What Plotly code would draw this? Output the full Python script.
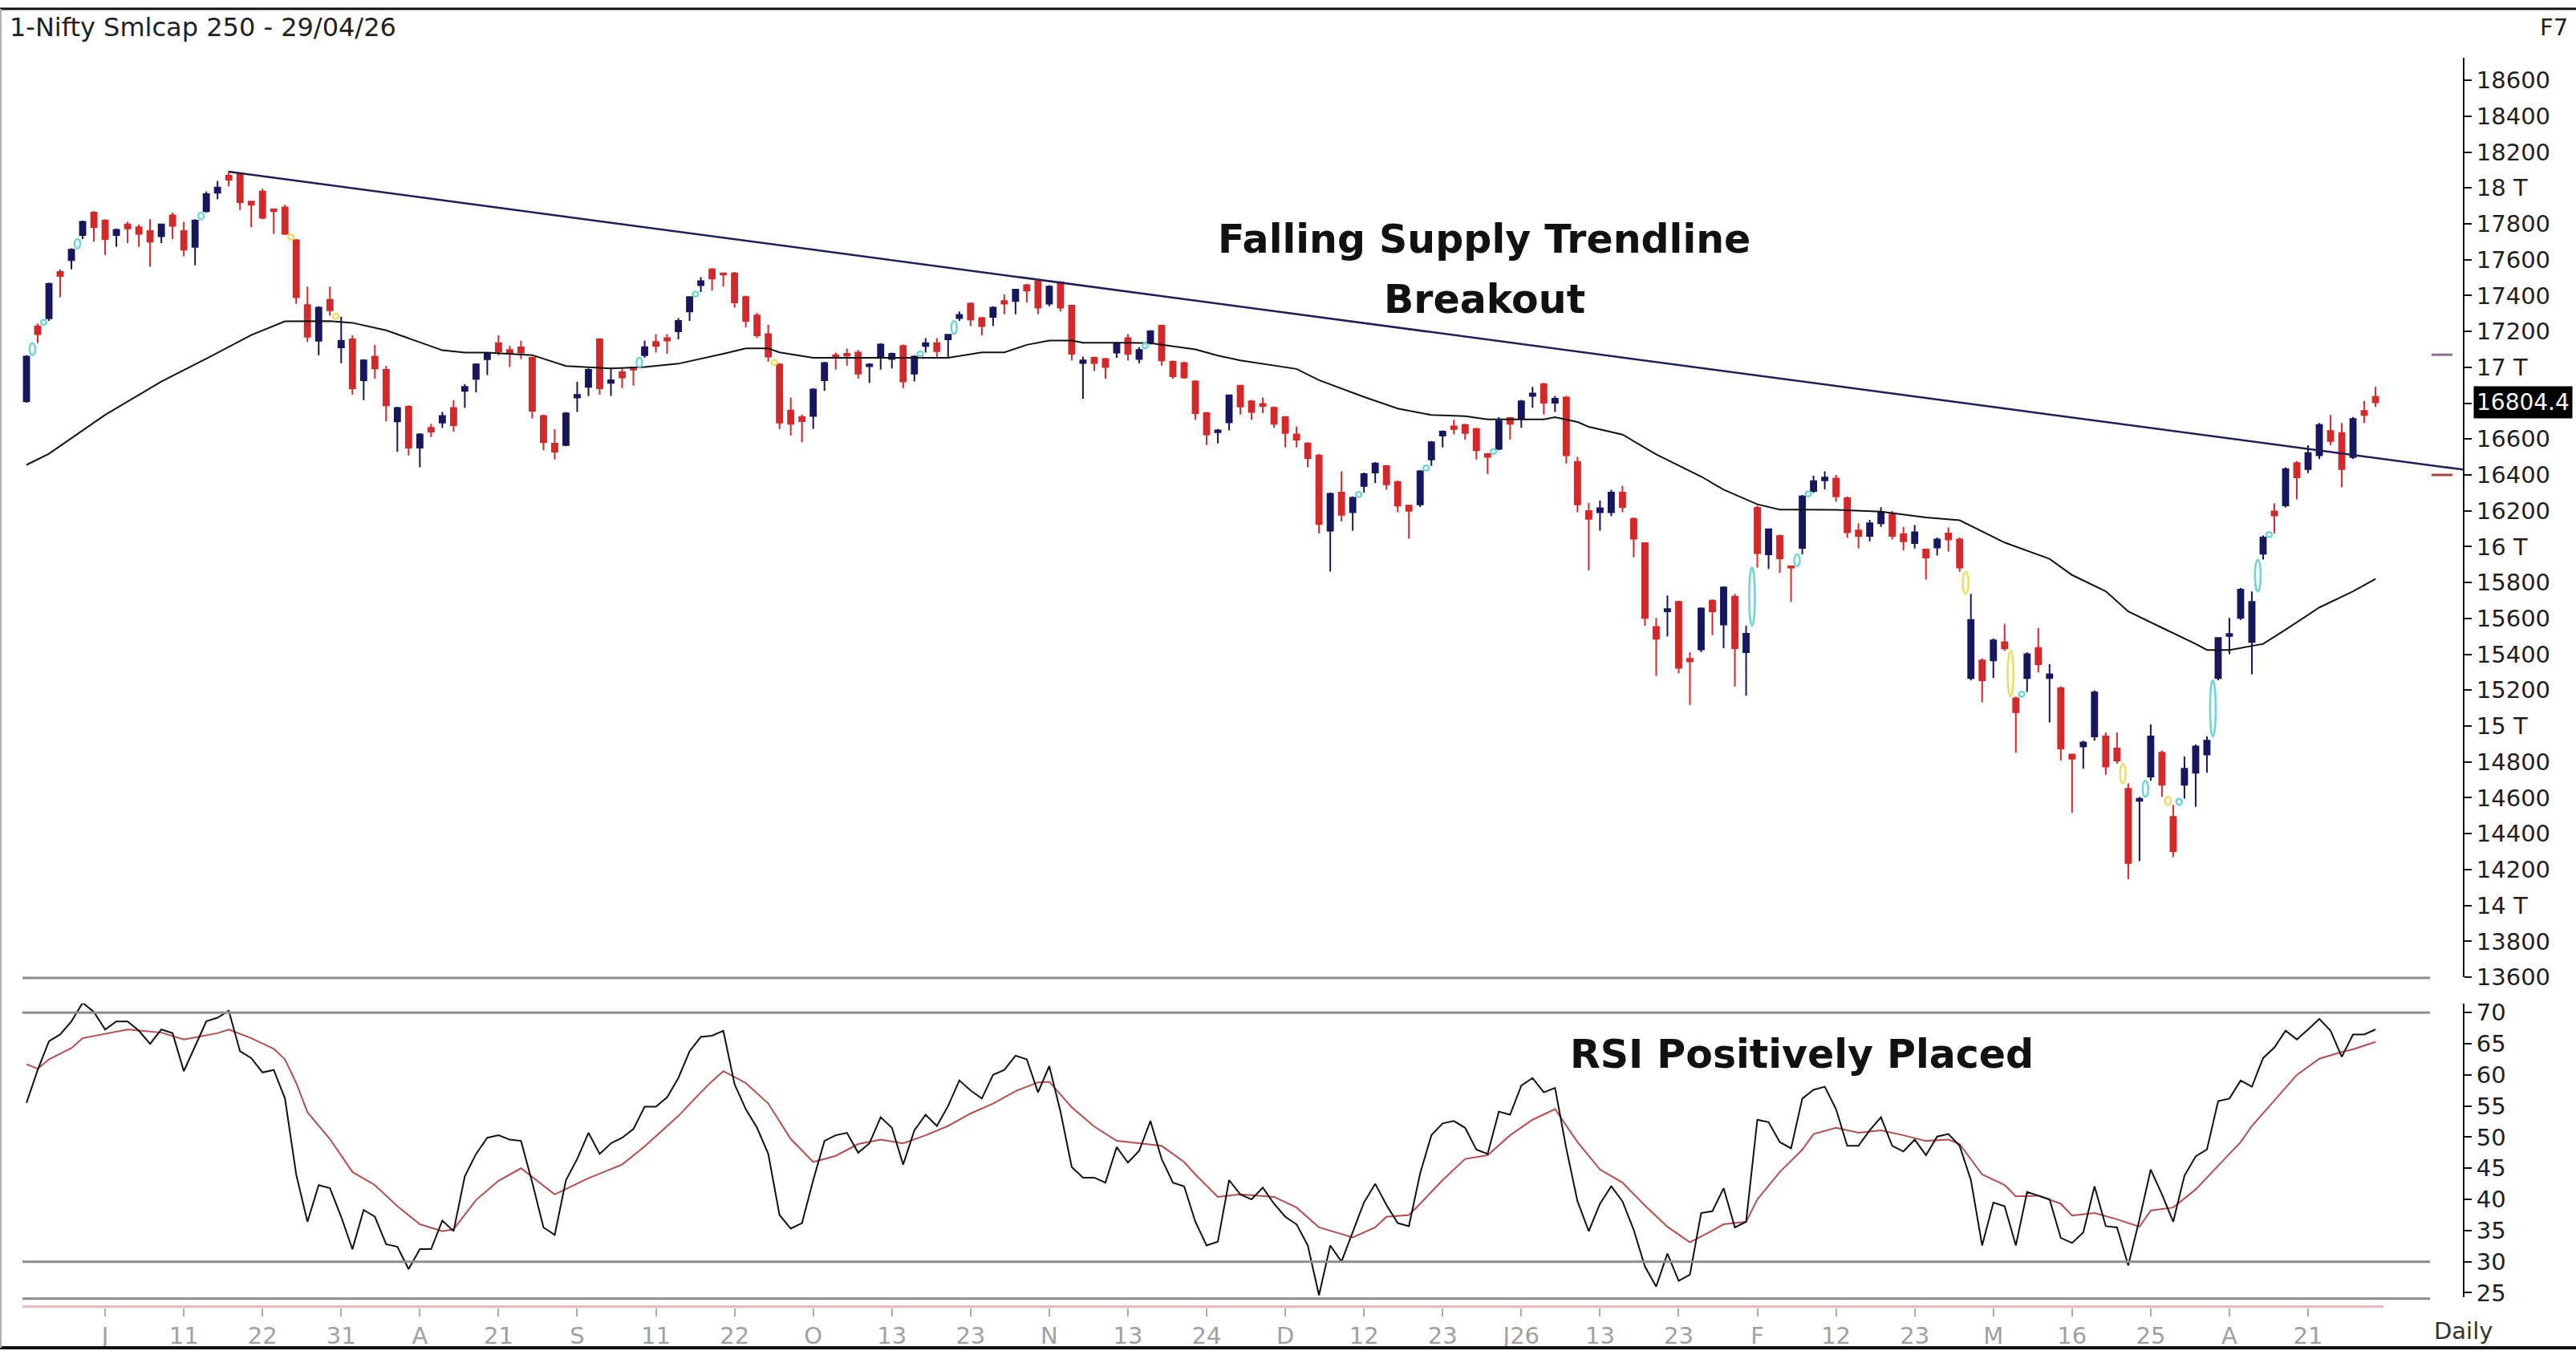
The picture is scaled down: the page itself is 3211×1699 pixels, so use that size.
import plotly.graph_objects as go

W, H = 3211, 1699

# ---------------- data ----------------
bar_open = [
    16810, 17229, 17273, 17531, 17597, 17737, 17862, 17818, 17737, 17796,
    17781, 17759, 17730, 17847, 17759, 17671, 17870, 17973, 18068, 18076,
    17924, 17980, 17880, 17892, 17708, 17347, 17148, 17376, 17111, 17156,
    16928, 17060, 16986, 16699, 16780, 16552, 16663, 16692, 16773, 16869,
    16935, 17045, 17134, 17097, 17111, 17053, 16729, 16574, 16567, 16832,
    16891, 17156, 16913, 16972, 16997, 17068, 17141, 17163, 17200, 17311,
    17458, 17546, 17524, 17524, 17392, 17289, 17185, 17016, 16759, 16722,
    16729, 16928, 17068, 17075, 17082, 17006, 17053, 17046, 17119, 16965,
    17119, 17134, 17156, 17274, 17355, 17274, 17281, 17369, 17369, 17458,
    17480, 17355, 17473, 17344, 17024, 17053, 17046, 17082, 17163, 17046,
    17141, 17232, 17031, 17024, 16921, 16744, 16638, 16693, 16898, 16810,
    16796, 16774, 16722, 16626, 16575, 16508, 16089, 16302, 16192, 16339,
    16413, 16449, 16361, 16229, 16236, 16486, 16619, 16670, 16678, 16656,
    16516, 16545, 16718, 16715, 16840, 16906, 16803, 16832, 16472, 16199,
    16192, 16192, 16302, 16155, 16020, 15552, 15640, 15692, 15375, 15427,
    15699, 15566, 15721, 15412, 16217, 15957, 16060, 15890, 15993, 16310,
    16370, 16380, 16270, 16090, 16060, 16130, 16180, 16070, 16020, 15984,
    15995, 16073, 16040, 15267, 15366, 15366, 15467, 15155, 15267, 15435,
    15267, 15211, 14841, 14886, 14942, 14942, 14875, 14650, 14583, 14718,
    14852, 14494, 14673, 14740, 14841, 15267, 15502, 15603, 15469, 15961,
    16197, 16230, 16466, 16432, 16510, 16645, 16634, 16499, 16757, 16835,
]
bar_high = [
    17067, 17244, 17472, 17546, 17663, 17818, 17870, 17825, 17774, 17811,
    17796, 17825, 17800, 17862, 17811, 17825, 17980, 18039, 18095, 18080,
    17928, 17995, 17884, 17906, 17715, 17450, 17340, 17450, 17281, 17178,
    17045, 17126, 17008, 16780, 16788, 16633, 16685, 16751, 16817, 16905,
    17023, 17082, 17178, 17119, 17148, 17060, 16736, 16655, 16751, 16920,
    16994, 17163, 16994, 16994, 17001, 17149, 17185, 17185, 17274, 17395,
    17502, 17553, 17528, 17531, 17399, 17303, 17237, 17023, 16832, 16736,
    16884, 17031, 17082, 17104, 17097, 17023, 17134, 17082, 17127, 17068,
    17163, 17163, 17185, 17311, 17362, 17281, 17340, 17406, 17436, 17465,
    17487, 17458, 17480, 17347, 17060, 17060, 17053, 17141, 17185, 17112,
    17207, 17237, 17038, 17031, 16928, 16751, 16656, 16847, 16898, 16818,
    16832, 16781, 16729, 16670, 16582, 16516, 16302, 16420, 16280, 16413,
    16472, 16449, 16369, 16229, 16427, 16589, 16648, 16707, 16685, 16663,
    16523, 16722, 16722, 16818, 16891, 16913, 16840, 16840, 16501, 16244,
    16258, 16317, 16339, 16163, 16023, 15603, 15728, 15699, 15412, 15662,
    15706, 15780, 15736, 15559, 16229, 16097, 16067, 15890, 16288, 16395,
    16420, 16400, 16280, 16130, 16150, 16220, 16200, 16110, 16120, 15990,
    16051, 16107, 16051, 15737, 15377, 15489, 15569, 15165, 15412, 15547,
    15345, 15222, 14841, 14919, 15199, 14964, 14964, 14680, 14605, 15009,
    14864, 14561, 14830, 14897, 14942, 15491, 15603, 15771, 15750, 16062,
    16241, 16443, 16477, 16566, 16690, 16734, 16690, 16723, 16813, 16891,
]
bar_low = [
    16803, 17134, 17259, 17391, 17546, 17715, 17700, 17627, 17671, 17693,
    17671, 17560, 17693, 17715, 17619, 17568, 17862, 17936, 18009, 17877,
    17781, 17825, 17744, 17737, 17354, 17141, 17067, 17288, 17023, 16847,
    16817, 16935, 16699, 16530, 16508, 16442, 16611, 16663, 16641, 16773,
    16861, 16957, 17067, 17001, 17045, 16714, 16537, 16486, 16560, 16751,
    16839, 16847, 16840, 16884, 16898, 17053, 17082, 17075, 17156, 17259,
    17420, 17428, 17450, 17333, 17222, 17163, 17031, 16656, 16619, 16582,
    16656, 16869, 16987, 17009, 16935, 16913, 16987, 16994, 16884, 16921,
    17082, 17053, 17053, 17259, 17230, 17178, 17230, 17296, 17296, 17362,
    17296, 17340, 17311, 17038, 16825, 16979, 16935, 17053, 17038, 17023,
    17127, 17009, 16935, 16935, 16707, 16567, 16575, 16648, 16737, 16707,
    16744, 16663, 16553, 16553, 16442, 16074, 15861, 16141, 16089, 16302,
    16354, 16317, 16192, 16045, 16221, 16450, 16553, 16626, 16597, 16486,
    16405, 16538, 16597, 16663, 16774, 16737, 16751, 16464, 16192, 15868,
    16089, 16170, 16192, 15941, 15559, 15280, 15500, 15294, 15118, 15412,
    15507, 15434, 15221, 15169, 15883, 15876, 15854, 15692, 15957, 16300,
    16320, 16250, 16050, 15990, 16030, 16110, 16040, 15980, 15990, 15816,
    15950, 15973, 15860, 15255, 15132, 15267, 15420, 14852, 15190, 15300,
    15020, 14808, 14517, 14762, 14919, 14729, 14790, 14146, 14247, 14695,
    14606, 14269, 14595, 14550, 14740, 15255, 15401, 15592, 15289, 15928,
    16073, 16219, 16264, 16410, 16488, 16566, 16331, 16488, 16690, 16779,
]
bar_close = [
    17060, 17185, 17465, 17509, 17656, 17811, 17781, 17715, 17766, 17774,
    17744, 17700, 17796, 17789, 17656, 17818, 17965, 18002, 18046, 17921,
    17906, 17833, 17870, 17744, 17391, 17170, 17332, 17318, 17148, 16883,
    17038, 16994, 16788, 16773, 16552, 16626, 16641, 16729, 16677, 16891,
    17016, 17075, 17089, 17075, 17082, 16758, 16582, 16530, 16743, 16846,
    16986, 16883, 16928, 16943, 16987, 17112, 17119, 17149, 17259, 17392,
    17480, 17495, 17517, 17362, 17259, 17178, 17060, 16692, 16685, 16700,
    16876, 17024, 17053, 17065, 16965, 17016, 17127, 17075, 16921, 17060,
    17134, 17090, 17182, 17292, 17266, 17230, 17333, 17355, 17433, 17428,
    17333, 17450, 17333, 17075, 17038, 17024, 17001, 17134, 17075, 17097,
    17200, 17038, 16950, 16943, 16744, 16626, 16648, 16844, 16781, 16751,
    16785, 16685, 16634, 16597, 16494, 16126, 16295, 16177, 16273, 16405,
    16464, 16347, 16229, 16200, 16420, 16582, 16641, 16656, 16634, 16538,
    16501, 16700, 16685, 16810, 16854, 16803, 16825, 16509, 16236, 16155,
    16214, 16302, 16221, 16045, 15603, 15486, 15652, 15324, 15360, 15655,
    15640, 15773, 15434, 15515, 15964, 16097, 15935, 15883, 16280, 16365,
    16385, 16280, 16080, 16060, 16130, 16190, 16060, 16030, 16080, 15939,
    16040, 16040, 15883, 15592, 15255, 15478, 15433, 15077, 15401, 15345,
    15289, 14875, 14818, 14908, 15188, 14774, 14808, 14236, 14594, 14942,
    14673, 14303, 14762, 14886, 14919, 15491, 15513, 15760, 15692, 16051,
    16174, 16432, 16387, 16522, 16678, 16589, 16432, 16712, 16734, 16804.4,
]
bars = list(range(len(bar_close)))

# gaps marked by hollow ovals (cyan = gap up, yellow = gap down), bar that opens the gap
gap_up_bars = [1, 2, 5, 16, 55, 60, 80, 83, 100, 119, 125, 131, 154, 158, 159,
               178, 189, 192, 195, 199, 200]
gap_down_bars = [24, 28, 67, 173, 177, 187, 191]

# moving average (sampled at bars)
ma_bars = [0, 2, 7, 12, 16, 20, 23, 27, 29, 32, 37, 39, 41, 45, 48, 52, 55, 58, 62,
           64, 66, 67, 70, 76, 82, 85, 87, 89, 91, 93, 94, 98, 100, 104, 106, 108,
           113, 115, 119, 122, 125, 128, 130, 135, 136, 138, 139, 142, 145, 149,
           151, 154, 156, 158, 161, 165, 169, 172, 176, 180, 182, 185, 187, 190,
           193, 194, 196, 199, 201, 204, 207, 209]
ma_values = [16456, 16518, 16735, 16920, 17048, 17180, 17256, 17258, 17248, 17206,
             17095, 17082, 17082, 17068, 17007, 16994, 17002, 17020, 17075, 17105,
             17105, 17083, 17053, 17053, 17053, 17083, 17083, 17125, 17149, 17149,
             17137, 17137, 17134, 17100, 17065, 17038, 16991, 16928, 16835, 16770,
             16734, 16728, 16710, 16710, 16722, 16695, 16668, 16625, 16515, 16391,
             16318, 16236, 16207, 16207, 16205, 16195, 16163, 16147, 16023, 15932,
             15842, 15751, 15639, 15548, 15458, 15424, 15424, 15458, 15537, 15661,
             15751, 15820]

# falling supply trendline (bar, price)
trend_bars = [18, 217]
trend_prices = [18090, 16428]

# small level markers beside the price axis
level_marks = [17070, 16400]
level_colors = ["#8d6d8f", "#a8473f"]

# RSI (one value per bar)
rsi_values = [
    55.5, 60.8, 65.4, 66.5, 68.6, 71.6, 70.1, 67.3, 68.6, 68.6,
    67.1, 65.0, 67.3, 66.7, 60.6, 64.6, 68.6, 69.2, 70.3, 63.8,
    62.7, 60.4, 60.8, 56.2, 44.0, 36.4, 42.3, 41.8, 37.2, 32.0,
    38.3, 37.2, 32.8, 32.4, 28.8, 32.0, 32.0, 36.6, 34.9, 43.7,
    47.3, 49.9, 50.3, 49.6, 49.4, 42.7, 35.5, 34.3, 43.1, 46.5,
    50.7, 47.3, 49.0, 49.9, 51.3, 54.9, 54.9, 56.4, 59.5, 63.8,
    66.1, 66.3, 67.1, 58.5, 54.5, 51.5, 47.3, 37.5, 35.3, 36.2,
    43.1, 49.4, 50.3, 50.7, 47.5, 49.0, 53.2, 51.5, 45.6, 51.1,
    53.6, 51.8, 55.0, 59.1, 57.5, 56.2, 60.0, 60.8, 63.1, 62.5,
    57.2, 61.4, 54.1, 45.2, 43.5, 43.5, 42.7, 48.4, 45.9, 47.8,
    52.6, 46.5, 42.7, 42.1, 36.4, 32.6, 33.2, 43.1, 40.8, 40.0,
    41.9, 39.3, 37.2, 36.0, 32.6, 24.6, 32.6, 30.0, 34.7, 39.5,
    42.5, 39.1, 36.2, 35.7, 44.2, 50.3, 52.2, 52.6, 51.5, 48.0,
    47.3, 54.1, 53.6, 58.3, 59.5, 57.2, 57.9, 48.2, 39.7, 34.9,
    39.3, 42.1, 39.7, 35.1, 29.2, 26.0, 31.3, 26.9, 27.9, 37.8,
    38.1, 41.8, 35.5, 36.4, 52.8, 52.4, 49.2, 48.2, 56.2, 57.6,
    58.1, 54.5, 48.6, 48.6, 51.1, 53.2, 48.6, 47.7, 49.6, 47.1,
    50.1, 50.5, 48.6, 43.1, 32.6, 39.5, 38.9, 32.6, 41.2, 40.6,
    40.0, 33.8, 33.0, 34.7, 42.1, 35.7, 35.5, 29.4, 36.8, 44.8,
    40.8, 36.4, 43.8, 46.9, 48.0, 55.8, 56.2, 59.1, 58.1, 62.7,
    64.4, 67.1, 65.7, 67.3, 69.0, 67.1, 62.9, 66.5, 66.5, 67.3,
]

# RSI signal line (sampled at bars)
sig_bars = [0, 1, 2, 4, 5, 7, 9, 12, 14, 17, 18, 20, 22, 23, 24, 25, 27, 29, 31, 33,
            35, 37, 38, 40, 42, 44, 47, 50, 53, 55, 58, 60, 61, 62, 64, 66, 68, 70,
            72, 74, 76, 78, 80, 82, 84, 86, 88, 90, 91, 93, 95, 97, 99, 101, 103,
            104, 106, 108, 111, 113, 115, 118, 120, 121, 123, 124, 126, 128, 130,
            132, 134, 136, 138, 140, 142, 144, 146, 148, 150, 151, 153, 154, 156,
            158, 159, 161, 163, 165, 167, 169, 171, 172, 174, 176, 177, 179, 181,
            182, 184, 186, 188, 189, 191, 193, 195, 197, 198, 200, 202, 204, 206,
            207, 209]
sig_values = [61.7, 61.0, 62.5, 64.3, 65.9, 66.6, 67.3, 66.8, 65.7, 66.7, 67.3, 65.9,
              64.2, 62.5, 58.7, 54.0, 49.7, 44.4, 42.3, 38.9, 36.0, 34.9, 35.2, 39.9,
              43.0, 45.0, 40.8, 43.4, 45.6, 48.5, 53.4, 57.2, 59.0, 60.6, 58.7, 55.4,
              49.7, 46.0, 47.0, 48.9, 49.6, 49.0, 50.3, 51.8, 53.8, 55.4, 57.4, 58.8,
              58.9, 54.8, 51.7, 49.4, 49.0, 48.6, 46.0, 44.0, 40.4, 40.8, 40.4, 38.7,
              35.5, 33.9, 35.5, 37.2, 37.5, 39.3, 43.1, 46.5, 47.1, 50.3, 52.8, 54.5,
              49.2, 44.8, 42.7, 39.0, 35.6, 33.1, 35.0, 36.0, 36.4, 40.0, 44.4, 48.0,
              50.5, 51.5, 50.7, 51.1, 50.3, 49.4, 49.6, 48.9, 44.0, 42.3, 40.5, 40.6,
              39.3, 37.4, 37.8, 36.8, 35.6, 38.2, 38.7, 41.6, 45.4, 49.2, 51.8, 55.9,
              60.0, 62.6, 63.7, 64.1, 65.3]
rsi_levels = [70, 30]

# axis ticks (the 16800 label is covered by the last-price tag)
price_tickvals = [13600, 13800, 14000, 14200, 14400, 14600, 14800, 15000, 15200, 15400,
                  15600, 15800, 16000, 16200, 16400, 16600, 16800, 17000, 17200, 17400,
                  17600, 17800, 18000, 18200, 18400, 18600]
price_ticktext = ["13600", "13800", "14 T", "14200", "14400", "14600", "14800", "15 T",
                  "15200", "15400", "15600", "15800", "16 T", "16200", "16400", "16600",
                  "", "17 T", "17200", "17400", "17600", "17800", "18 T", "18200",
                  "18400", "18600"]
rsi_tickvals = [25, 30, 35, 40, 45, 50, 55, 60, 65, 70]
date_tick_bars = list(range(7, 204, 7))
date_tick_text = ["J", "11", "22", "31", "A", "21", "S", "11", "22", "O", "13", "23",
                  "N", "13", "24", "D", "12", "23", "J26", "13", "23", "F", "12", "23",
                  "M", "16", "25", "A", "21"]

title_text = "1-Nifty Smlcap 250 - 29/04/26"

# ---------------- styling ----------------
NAVY = "#17175f"
RED = "#d3292b"
FONT = "DejaVu Sans"
GRID_GRAY = "#8c8c8c"


def px(x):
    return x / W


def py(y):
    return 1 - y / H


x_range = [-33 / 14.01, (3070 - 33) / 14.01]
x_dom = [0, px(3070)]

fig = go.Figure()

fig.add_trace(go.Candlestick(
    x=bars, open=bar_open, high=bar_high, low=bar_low, close=bar_close,
    increasing=dict(line=dict(color=NAVY, width=2), fillcolor=NAVY),
    decreasing=dict(line=dict(color=RED, width=2), fillcolor=RED),
    whiskerwidth=0, showlegend=False, hoverinfo="skip",
    xaxis="x", yaxis="y",
))
fig.add_trace(go.Scatter(
    x=ma_bars, y=ma_values, mode="lines", line=dict(color="#111111", width=2),
    showlegend=False, hoverinfo="skip", xaxis="x", yaxis="y",
))
fig.add_trace(go.Scatter(
    x=trend_bars, y=trend_prices, mode="lines", line=dict(color="#1f1f5a", width=2.5),
    showlegend=False, hoverinfo="skip", xaxis="x", yaxis="y",
))
fig.add_trace(go.Scatter(
    x=sig_bars, y=sig_values, mode="lines", line=dict(color="#b84c4c", width=2),
    showlegend=False, hoverinfo="skip", xaxis="x2", yaxis="y2",
))
fig.add_trace(go.Scatter(
    x=bars, y=rsi_values, mode="lines", line=dict(color="#111111", width=2),
    showlegend=False, hoverinfo="skip", xaxis="x2", yaxis="y2",
))

shapes = []
# gap ovals
for i in gap_up_bars:
    lo, hi = bar_high[i - 1], bar_low[i]
    mid = (lo + hi) / 2
    half = max((hi - lo) / 2, 14)
    shapes.append(dict(type="circle", xref="x", yref="y", x0=i - 0.72, x1=i - 0.22,
                       y0=mid - half, y1=mid + half,
                       line=dict(color="#6fd3da", width=2.5), layer="above"))
for i in gap_down_bars:
    lo, hi = bar_high[i], bar_low[i - 1]
    mid = (lo + hi) / 2
    half = max((hi - lo) / 2, 14)
    shapes.append(dict(type="circle", xref="x", yref="y", x0=i - 0.72, x1=i - 0.22,
                       y0=mid - half, y1=mid + half,
                       line=dict(color="#eedc6a", width=2.5), layer="above"))

# RSI level lines
for lv in rsi_levels:
    shapes.append(dict(type="line", xref="paper", yref="y2", x0=px(28), x1=px(3029),
                       y0=lv, y1=lv, line=dict(color=GRID_GRAY, width=3)))
# panel separators and frame
shapes.append(dict(type="line", xref="paper", yref="paper", x0=px(28), x1=px(3029),
                   y0=py(1230), y1=py(1230), line=dict(color=GRID_GRAY, width=3)))
shapes.append(dict(type="line", xref="paper", yref="paper", x0=px(28), x1=px(3029),
                   y0=py(1635), y1=py(1635), line=dict(color=GRID_GRAY, width=3)))
shapes.append(dict(type="line", xref="paper", yref="paper", x0=px(28), x1=px(2971),
                   y0=py(1645), y1=py(1645), line=dict(color="#e9b7b7", width=3)))
shapes.append(dict(type="line", xref="paper", yref="paper", x0=0, x1=1,
                   y0=py(6), y1=py(6), line=dict(color="#111111", width=3)))
shapes.append(dict(type="line", xref="paper", yref="paper", x0=0, x1=1,
                   y0=py(1697), y1=py(1697), line=dict(color="#111111", width=4)))
shapes.append(dict(type="line", xref="paper", yref="paper", x0=px(1), x1=px(1),
                   y0=py(6), y1=py(1697), line=dict(color="#b0b0b0", width=2)))
# level markers next to the axis
for lv, col in zip(level_marks, level_colors):
    shapes.append(dict(type="line", xref="paper", yref="y", x0=px(3031), x1=px(3057),
                       y0=lv, y1=lv, line=dict(color=col, width=3)))

annotations = [
    dict(text=title_text, x=px(10), y=py(29), xref="paper", yref="paper",
         xanchor="left", yanchor="middle", showarrow=False,
         font=dict(family=FONT, size=32, color="#222222")),
    dict(text="F7", x=px(3203), y=py(29), xref="paper", yref="paper",
         xanchor="right", yanchor="middle", showarrow=False,
         font=dict(family=FONT, size=29, color="#222222")),
    dict(text="Daily", x=px(3032), y=py(1676), xref="paper", yref="paper",
         xanchor="left", yanchor="middle", showarrow=False,
         font=dict(family=FONT, size=29, color="#333333")),
    dict(text=f"{bar_close[-1]:.1f}", x=px(3083), y=bar_close[-1], xref="paper", yref="y",
         xanchor="left", yanchor="middle", showarrow=False, bgcolor="#000000",
         borderpad=3, font=dict(family=FONT, size=28, color="#ffffff")),
    dict(text="<b>Falling Supply Trendline</b>", x=px(1850), y=py(297), xref="paper",
         yref="paper", xanchor="center", yanchor="middle", showarrow=False,
         font=dict(family=FONT, size=49, color="#111111")),
    dict(text="<b>Breakout</b>", x=px(1850), y=py(373), xref="paper",
         yref="paper", xanchor="center", yanchor="middle", showarrow=False,
         font=dict(family=FONT, size=49, color="#111111")),
    dict(text="<b>RSI Positively Placed</b>", x=px(2246), y=py(1327), xref="paper",
         yref="paper", xanchor="center", yanchor="middle", showarrow=False,
         font=dict(family=FONT, size=49, color="#111111")),
]

axis_font = dict(family=FONT, size=29, color="#1e1e1e")

fig.update_layout(
    width=W, height=H, autosize=False,
    margin=dict(l=0, r=0, t=0, b=0, pad=0),
    paper_bgcolor="white", plot_bgcolor="white",
    showlegend=False,
    xaxis=dict(domain=x_dom, range=x_range, anchor="y", showticklabels=False,
               showgrid=False, zeroline=False, showline=False, ticks="",
               rangeslider=dict(visible=False), fixedrange=True),
    yaxis=dict(domain=[py(1229), py(68)], range=[13600, 18725], side="right",
               anchor="x", showgrid=False, zeroline=False, showline=True,
               linecolor="#111111", linewidth=2, ticks="outside", ticklen=9,
               tickwidth=2, tickcolor="#111111", tickvals=price_tickvals,
               ticktext=price_ticktext, tickfont=axis_font, fixedrange=True),
    xaxis2=dict(domain=x_dom, range=x_range, matches="x", anchor="free",
                position=py(1646), showgrid=False, zeroline=False, showline=False,
                ticks="outside", ticklen=10, tickwidth=2, tickcolor="#a8a8a8",
                tickvals=date_tick_bars, ticktext=date_tick_text,
                tickfont=dict(family=FONT, size=29, color="#a0a0a0"), fixedrange=True),
    yaxis2=dict(domain=[py(1633), py(1262)], range=[24.3, 71.5], side="right",
                anchor="x2", showgrid=False, zeroline=False, showline=True,
                linecolor="#111111", linewidth=2, ticks="outside", ticklen=9,
                tickwidth=2, tickcolor="#111111", tickvals=rsi_tickvals,
                tickfont=axis_font, fixedrange=True),
    shapes=shapes,
    annotations=annotations,
)

fig.write_html("out.html")
